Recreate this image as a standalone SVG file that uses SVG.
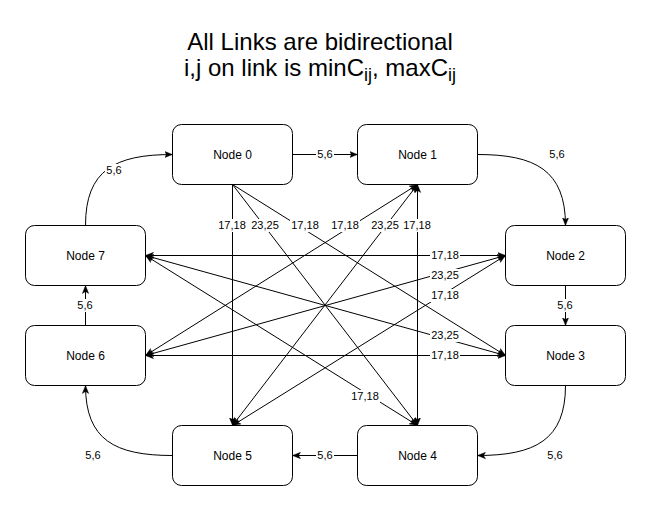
<svg xmlns="http://www.w3.org/2000/svg" width="651" height="512" viewBox="0 0 651 512">
<style>
.node rect{fill:#fff;stroke:#000;stroke-width:1}
.node text{font-family:"Liberation Sans",Arial,sans-serif;font-size:12px;fill:#000;text-anchor:middle}
.e{fill:none;stroke:#000;stroke-width:1}
.ea{marker-end:url(#arr)}
.eb{marker-end:url(#arr);marker-start:url(#arr)}
.lbl rect{fill:#fff;stroke:none}
.lbl text{font-family:"Liberation Sans",Arial,sans-serif;font-size:11px;fill:#000;text-anchor:middle}
.title{font-family:"Liberation Sans",Arial,sans-serif;font-size:24px;fill:#000;text-anchor:middle}
</style>
<defs>
<marker id="arr" viewBox="0 0 10 10" refX="10" refY="5" markerWidth="8" markerHeight="8" markerUnits="userSpaceOnUse" orient="auto-start-reverse">
<path d="M0,1 L10,5 L0,9 L2.5,5 z" fill="#000" stroke="#000" stroke-width="0.5"/>
</marker>
</defs>
<rect width="651" height="512" fill="#fff"/>
<text class="title" x="320" y="50">All Links are bidirectional</text>
<text class="title" x="320" y="76">i,j on link is minC<tspan font-size="18" dy="5">ij</tspan><tspan dy="-5">, maxC</tspan><tspan font-size="18" dy="5">ij</tspan></text>

<g id="connectors">
<path class="e ea" d="M292.5,154.5 L357.5,154.5"/>
<path class="e ea" d="M477.5,154.5 C535,154.5 565.5,170 565.5,225.5"/>
<path class="e ea" d="M565.5,285.5 L565.5,325.5"/>
<path class="e ea" d="M565.5,385.5 C565.5,440 535,455.5 477.5,455.5"/>
<path class="e ea" d="M357.5,455.5 L292.5,455.5"/>
<path class="e ea" d="M172.5,455.5 C115,455.5 85.5,440 85.5,385.5"/>
<path class="e ea" d="M85.5,325.5 L85.5,285.5"/>
<path class="e ea" d="M85.5,225.5 C85.5,170 115,154.5 172.5,154.5"/>

<path class="e ea" d="M232.5,184.5 L232.5,425.5"/>
<path class="e ea" d="M232.5,184.5 L417.5,425.5"/>
<path class="e ea" d="M232.5,184.5 L505.5,355.5"/>
<path class="e eb" d="M417.5,425.5 L417.5,184.5"/>
<path class="e eb" d="M232.5,425.5 L417.5,184.5"/>
<path class="e eb" d="M145.5,355.5 L417.5,184.5"/>
<path class="e eb" d="M145.5,255.5 L505.5,255.5"/>
<path class="e eb" d="M145.5,255.5 L505.5,355.5"/>
<path class="e eb" d="M145.5,255.5 L417.5,425.5"/>
<path class="e eb" d="M145.5,355.5 L505.5,255.5"/>
<path class="e eb" d="M145.5,355.5 L505.5,355.5"/>
<path class="e eb" d="M232.5,425.5 L505.5,255.5"/>

<g class="lbl">
<rect x="316" y="148" width="18" height="13"/><text x="325" y="158">5,6</text>
<rect x="548" y="148" width="18" height="13"/><text x="557" y="158">5,6</text>
<rect x="556" y="299" width="18" height="13"/><text x="565" y="309">5,6</text>
<rect x="546" y="449" width="18" height="13"/><text x="555" y="459">5,6</text>
<rect x="316" y="449" width="18" height="13"/><text x="325" y="459">5,6</text>
<rect x="84" y="449" width="18" height="13"/><text x="93" y="459">5,6</text>
<rect x="76" y="299" width="18" height="13"/><text x="85" y="309">5,6</text>
<rect x="105" y="164" width="18" height="13"/><text x="114" y="174">5,6</text>

<rect x="217" y="219" width="30" height="13"/><text x="232" y="229">17,18</text>
<rect x="250" y="219" width="30" height="13"/><text x="265" y="229">23,25</text>
<rect x="290" y="219" width="30" height="13"/><text x="305" y="229">17,18</text>
<rect x="330" y="219" width="30" height="13"/><text x="345" y="229">17,18</text>
<rect x="370" y="219" width="30" height="13"/><text x="385" y="229">23,25</text>
<rect x="402" y="219" width="30" height="13"/><text x="417" y="229">17,18</text>

<rect x="430" y="249" width="30" height="13"/><text x="445" y="259">17,18</text>
<rect x="430" y="269" width="30" height="13"/><text x="445" y="279">23,25</text>
<rect x="430" y="289" width="30" height="13"/><text x="445" y="299">17,18</text>
<rect x="430" y="329" width="30" height="13"/><text x="445" y="339">23,25</text>
<rect x="430" y="349" width="30" height="13"/><text x="445" y="359">17,18</text>
<rect x="350" y="390" width="30" height="13"/><text x="365" y="400">17,18</text>
</g>
</g>

<g id="node0" class="node"><rect x="172.5" y="124.5" width="120" height="60" rx="9"/><text x="232.5" y="158.5">Node 0</text></g>
<g id="node1" class="node"><rect x="357.5" y="124.5" width="120" height="60" rx="9"/><text x="417.5" y="158.5">Node 1</text></g>
<g id="node2" class="node"><rect x="505.5" y="225.5" width="120" height="60" rx="9"/><text x="565.5" y="259.5">Node 2</text></g>
<g id="node3" class="node"><rect x="505.5" y="325.5" width="120" height="60" rx="9"/><text x="565.5" y="359.5">Node 3</text></g>
<g id="node4" class="node"><rect x="357.5" y="425.5" width="120" height="60" rx="9"/><text x="417.5" y="459.5">Node 4</text></g>
<g id="node5" class="node"><rect x="172.5" y="425.5" width="120" height="60" rx="9"/><text x="232.5" y="459.5">Node 5</text></g>
<g id="node6" class="node"><rect x="25.5" y="325.5" width="120" height="60" rx="9"/><text x="85.5" y="359.5">Node 6</text></g>
<g id="node7" class="node"><rect x="25.5" y="225.5" width="120" height="60" rx="9"/><text x="85.5" y="259.5">Node 7</text></g>
</svg>
